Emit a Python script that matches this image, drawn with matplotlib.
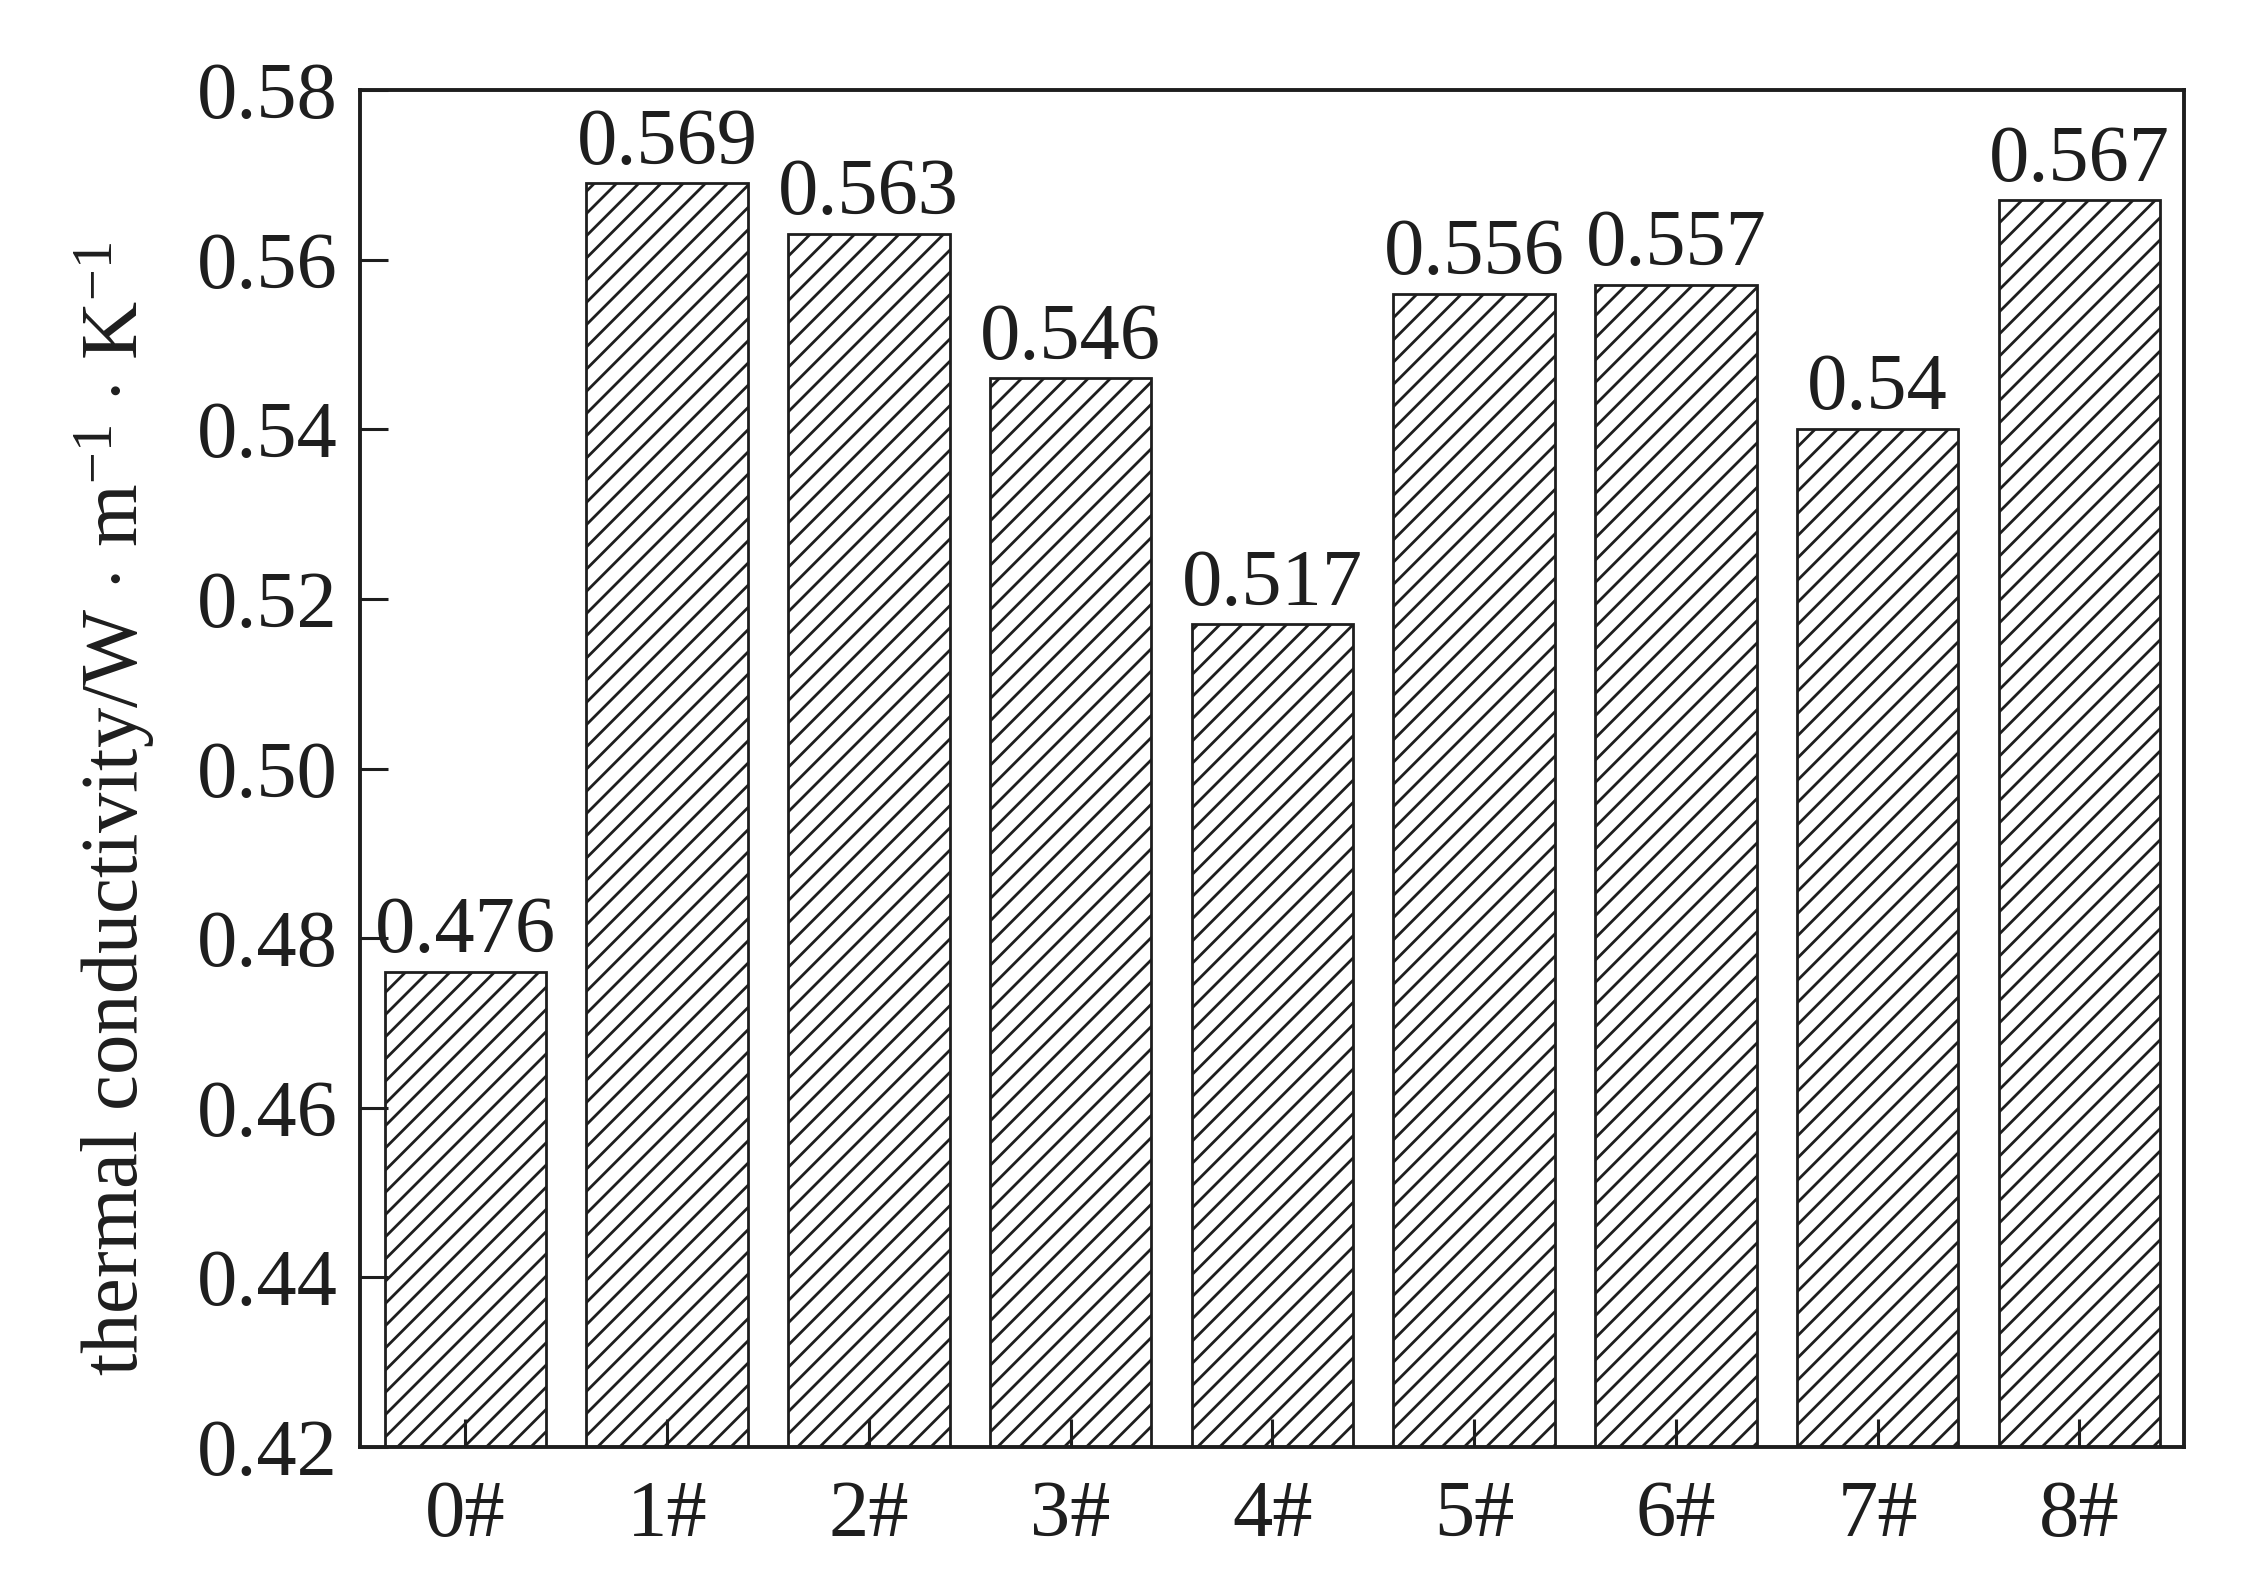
import numpy as np
import matplotlib
matplotlib.use('Agg')
import matplotlib.pyplot as plt

# sample names and measured thermal conductivity
samples = ['0#', '1#', '2#', '3#', '4#', '5#', '6#', '7#', '8#']
conductivity = [0.476, 0.569, 0.563, 0.546, 0.517, 0.556, 0.557, 0.54, 0.567]
value_labels = ['0.476', '0.569', '0.563', '0.546', '0.517', '0.556', '0.557', '0.54', '0.567']
y_ticks = [0.42, 0.44, 0.46, 0.48, 0.50, 0.52, 0.54, 0.56, 0.58]

plt.rcParams['font.family'] = ['Liberation Serif', 'DejaVu Serif']
plt.rcParams['mathtext.fontset'] = 'custom'
plt.rcParams['mathtext.rm'] = 'Liberation Serif'
plt.rcParams['mathtext.it'] = 'Liberation Serif:italic'
plt.rcParams['hatch.linewidth'] = 1.0
plt.rcParams['hatch.color'] = '#1e1e1e'

fig = plt.figure(figsize=(11.33, 7.94), dpi=200)
ax = fig.add_axes([0.159, 0.0888, 0.805, 0.8545])

x = np.arange(len(samples))
bars = ax.bar(x, conductivity, width=0.8, bottom=0, color='white',
              edgecolor='#1e1e1e', linewidth=1.0, hatch='///')
ax.bar_label(bars, labels=value_labels, padding=1, fontsize=29, color='#1e1e1e')

ax.set_xlim(-0.52, 8.52)
ax.set_ylim(0.42, 0.58)
ax.set_xticks(x)
ax.set_xticklabels(samples)
ax.set_yticks(y_ticks)
ax.set_yticklabels([f'{t:.2f}' for t in y_ticks])

ax.tick_params(direction='in', length=10, width=1.1, labelsize=29,
               colors='#1e1e1e', top=False, right=False)
ax.tick_params(axis='x', pad=12)
ax.tick_params(axis='y', pad=8)

for sp in ax.spines.values():
    sp.set_linewidth(1.4)
    sp.set_color('#1e1e1e')

ax.set_ylabel(r'thermal conductivity/W $\cdot$ m$^{-1}$ $\cdot$ K$^{-1}$',
              fontsize=29, color='#1e1e1e', labelpad=14, y=0.47)

fig.savefig('out.png', dpi=200)
